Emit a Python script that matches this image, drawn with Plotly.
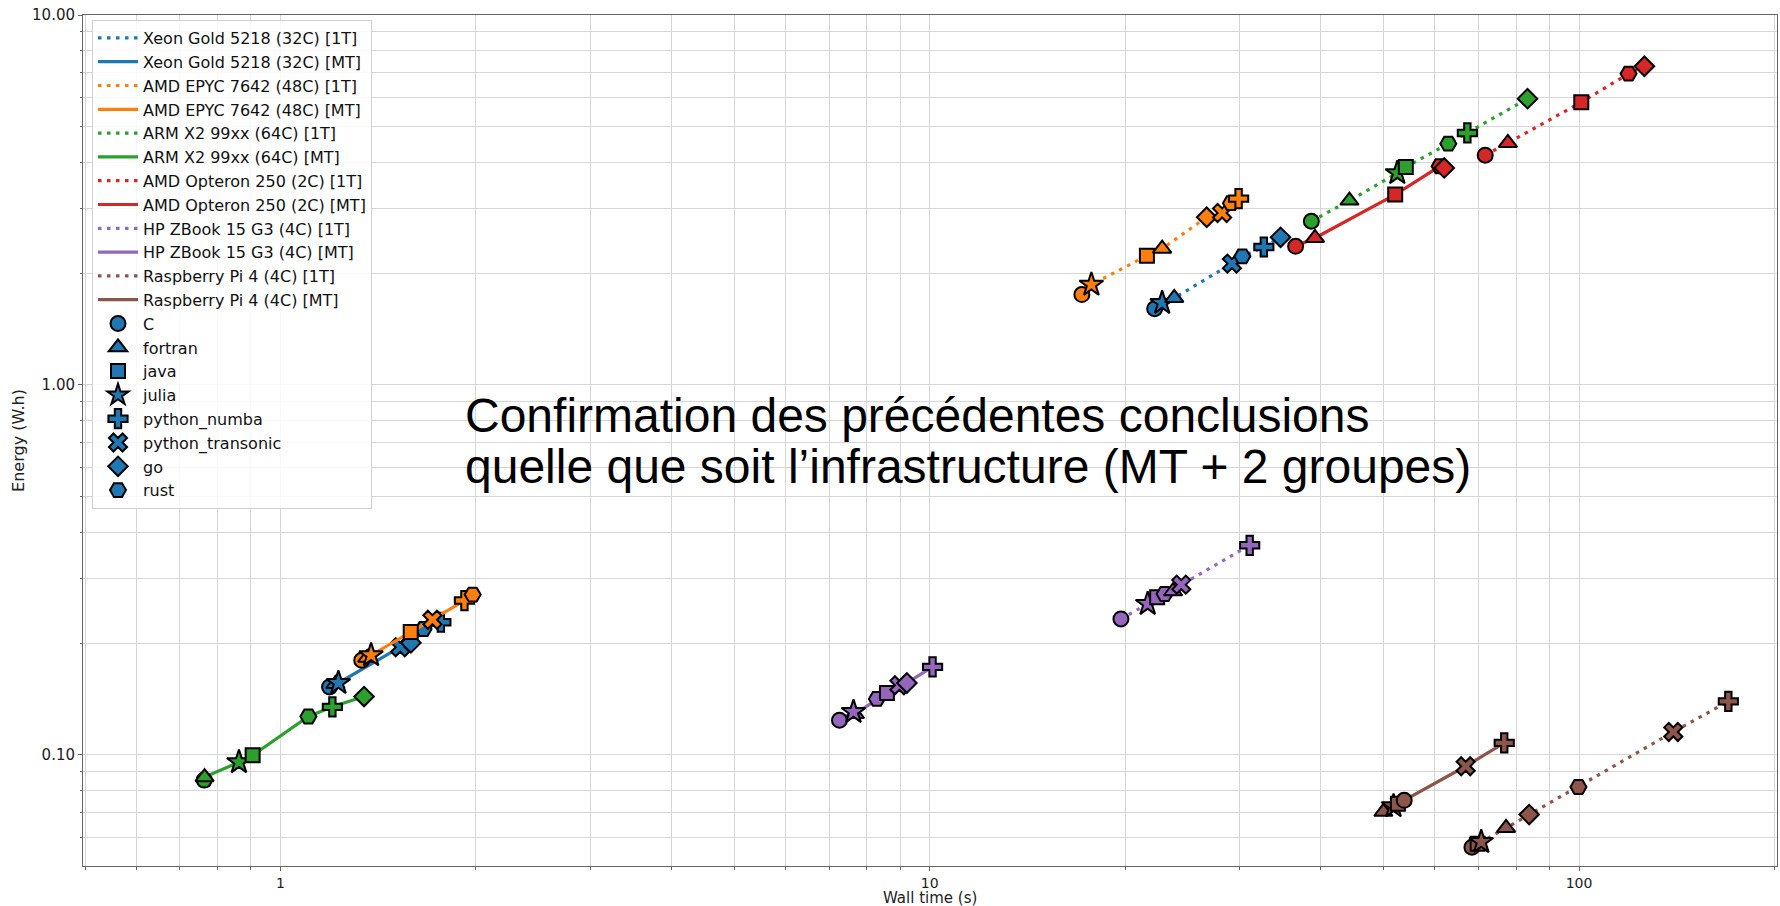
import plotly.graph_objects as go
import numpy as np

# ---------------- data (language, wall time [s], energy [W.h]) ----------------
XEON_1T = [("C", 22.2, 1.608), ("julia", 22.8, 1.666), ("fortran", 23.8, 1.719),
           ("python_transonic", 29.2, 2.128), ("rust", 30.3, 2.227),
           ("python_numba", 32.7, 2.36), ("go", 34.7, 2.507)]
XEON_MT = [("C", 1.19, 0.1527), ("fortran", 1.215, 0.1555), ("julia", 1.228, 0.1565),
           ("python_transonic", 1.529, 0.1955), ("go", 1.588, 0.2009),
           ("rust", 1.661, 0.219), ("python_numba", 1.766, 0.2284)]
EPYC_1T = [("C", 17.15, 1.755), ("julia", 17.74, 1.867), ("java", 21.6, 2.236),
           ("fortran", 22.8, 2.336), ("go", 26.7, 2.84), ("python_transonic", 28.2, 2.917),
           ("rust", 29.1, 3.10), ("python_numba", 29.9, 3.19)]
EPYC_MT = [("C", 1.334, 0.1803), ("fortran", 1.36, 0.183), ("julia", 1.379, 0.186),
           ("java", 1.587, 0.215), ("python_transonic", 1.714, 0.232),
           ("python_numba", 1.92, 0.2614), ("rust", 1.977, 0.2713)]
ARM_1T = [("C", 38.7, 2.77), ("fortran", 44.3, 3.15), ("julia", 52.5, 3.74),
          ("java", 54.1, 3.88), ("rust", 62.9, 4.49), ("python_numba", 67.3, 4.80),
          ("go", 83.3, 5.94)]
ARM_MT = [("C", 0.763, 0.0855), ("fortran", 0.764, 0.0871), ("julia", 0.863, 0.0956),
          ("java", 0.906, 0.0998), ("rust", 1.104, 0.127), ("python_numba", 1.202, 0.1349),
          ("go", 1.345, 0.1438)]
OPTERON_1T = [("C", 71.7, 4.18), ("fortran", 77.7, 4.51), ("java", 100.8, 5.81),
              ("rust", 119.2, 6.94), ("go", 126.1, 7.27)]
OPTERON_MT = [("C", 36.6, 2.37), ("fortran", 39.2, 2.497), ("java", 52.1, 3.27),
              ("rust", 61.0, 3.90), ("go", 62.0, 3.86)]
ZBOOK_1T = [("C", 19.7, 0.2332), ("julia", 21.66, 0.256), ("java", 22.4, 0.2668),
            ("rust", 23.0, 0.2723), ("fortran", 23.7, 0.277),
            ("python_transonic", 24.4, 0.2886), ("python_numba", 31.1, 0.3687)]
ZBOOK_MT = [("C", 7.26, 0.1241), ("fortran", 7.67, 0.129), ("julia", 7.63, 0.1307),
            ("rust", 8.29, 0.1417), ("java", 8.59, 0.1471),
            ("python_transonic", 8.98, 0.1543), ("go", 9.22, 0.1565),
            ("python_numba", 10.1, 0.173)]
RPI_1T = [("C", 68.4, 0.0563), ("java", 69.8, 0.0575), ("julia", 70.7, 0.0582),
          ("fortran", 77.2, 0.0635), ("go", 83.8, 0.069), ("rust", 99.8, 0.0819),
          ("python_transonic", 139.7, 0.1154), ("python_numba", 169.8, 0.1396)]
RPI_MT = [("fortran", 49.96, 0.0702), ("julia", 51.8, 0.0727), ("java", 52.6, 0.0738),
          ("C", 53.8, 0.0754), ("python_transonic", 66.9, 0.0932),
          ("python_numba", 76.7, 0.1078)]

SERIES = [
    ("Xeon Gold 5218 (32C) [1T]", XEON_1T, "#1f77b4", True),
    ("Xeon Gold 5218 (32C) [MT]", XEON_MT, "#1f77b4", False),
    ("AMD EPYC 7642 (48C) [1T]", EPYC_1T, "#ff7f0e", True),
    ("AMD EPYC 7642 (48C) [MT]", EPYC_MT, "#ff7f0e", False),
    ("ARM X2 99xx (64C) [1T]", ARM_1T, "#2ca02c", True),
    ("ARM X2 99xx (64C) [MT]", ARM_MT, "#2ca02c", False),
    ("AMD Opteron 250 (2C) [1T]", OPTERON_1T, "#d62728", True),
    ("AMD Opteron 250 (2C) [MT]", OPTERON_MT, "#d62728", False),
    ("HP ZBook 15 G3 (4C) [1T]", ZBOOK_1T, "#9467bd", True),
    ("HP ZBook 15 G3 (4C) [MT]", ZBOOK_MT, "#9467bd", False),
    ("Raspberry Pi 4 (4C) [1T]", RPI_1T, "#8c564b", True),
    ("Raspberry Pi 4 (4C) [MT]", RPI_MT, "#8c564b", False),
]

LANGUAGES = ["C", "fortran", "java", "julia", "python_numba", "python_transonic", "go", "rust"]
SYMBOLS = {"C": "circle", "fortran": "triangle-up", "java": "square", "julia": "star",
           "python_numba": "cross", "python_transonic": "x", "go": "diamond",
           "rust": "hexagon2"}
SIZES = {"C": 15, "fortran": 16, "java": 14, "julia": 18, "python_numba": 16,
         "python_transonic": 16, "go": 15, "rust": 16}

X_TICKS = [1, 10, 100]
X_TICKTEXT = ["1", "10", "100"]
Y_TICKS = [0.1, 1, 10]
Y_TICKTEXT = ["0.10", "1.00", "10.00"]
X_TITLE = "Wall time (s)"
Y_TITLE = "Energy (W.h)"

TITLE_LINES = ["Confirmation des précédentes conclusions",
               "quelle que soit l\u2019infrastructure (MT + 2 groupes)"]

# ---------------- figure ----------------
fig = go.Figure()

for name, pts, color, single in SERIES:
    pts_sorted = sorted(pts, key=lambda p: p[1])
    xs = [p[1] for p in pts_sorted]
    ys = [p[2] for p in pts_sorted]
    fig.add_trace(go.Scatter(
        x=xs, y=ys, mode="lines", name=name,
        line=dict(color=color, width=3.2, dash="3.5px,5.5px" if single else "solid"),
        hoverinfo="skip"))
    fig.add_trace(go.Scatter(
        x=[p[1] for p in pts], y=[p[2] for p in pts], mode="markers", showlegend=False,
        text=[p[0] for p in pts],
        marker=dict(color=color, symbol=[SYMBOLS[p[0]] for p in pts],
                    size=[SIZES[p[0]] for p in pts], opacity=1,
                    line=dict(color="black", width=2))))

for lang in LANGUAGES:
    fig.add_trace(go.Scatter(
        x=[None], y=[None], mode="markers", name=lang,
        marker=dict(color="#1f77b4", symbol=SYMBOLS[lang], size=SIZES[lang], opacity=1,
                    line=dict(color="black", width=2))))

def minor_vals(lo_exp, hi_exp, lo, hi):
    vals = []
    for e in range(lo_exp, hi_exp + 1):
        for m in range(2, 10):
            v = m * 10.0 ** e
            if lo <= v <= hi:
                vals.append(v)
    return vals

X_MIN, X_MAX = 0.4964, 201.8
Y_MIN, Y_MAX = 0.0501, 10.0

GRID = "#d6d6d6"
axis_common = dict(
    type="log", showline=True, linecolor="#666666", linewidth=1, mirror=True,
    ticks="outside", ticklen=4, tickcolor="#666666", gridcolor=GRID, gridwidth=1,
    zeroline=False, automargin=False,
)

fig.update_xaxes(
    **axis_common,
    tickfont=dict(family="DejaVu Sans", size=14, color="#222222"),
    range=[np.log10(X_MIN), np.log10(X_MAX)],
    tickmode="array", tickvals=X_TICKS, ticktext=X_TICKTEXT,
    minor=dict(tickmode="array", tickvals=minor_vals(-1, 2, X_MIN, X_MAX),
               ticks="outside", ticklen=2.5, tickcolor="#666666",
               showgrid=True, gridcolor=GRID, gridwidth=1),
)
fig.update_yaxes(
    **axis_common,
    tickfont=dict(family="DejaVu Sans", size=15, color="#222222"),
    range=[np.log10(Y_MIN), np.log10(Y_MAX)],
    tickmode="array", tickvals=Y_TICKS, ticktext=Y_TICKTEXT,
    minor=dict(tickmode="array", tickvals=minor_vals(-2, 1, Y_MIN, Y_MAX),
               ticks="outside", ticklen=2.5, tickcolor="#666666",
               showgrid=True, gridcolor=GRID, gridwidth=1),
    title=dict(text=Y_TITLE, font=dict(family="DejaVu Sans", size=16, color="#222222"),
               standoff=3),
)

L, R, T, B = 83, 3, 15, 40
PW, PH = 1780 - L - R, 906 - T - B

def px_to_paper(x, y):
    return (x - L) / PW, (906 - B - y) / PH

# x-axis title as an annotation (exact position under the tick labels)
xt_x, xt_y = px_to_paper(L + PW / 2, 898.5)
fig.add_annotation(text=X_TITLE, xref="paper", yref="paper", x=xt_x, y=xt_y,
                   xanchor="center", yanchor="middle", showarrow=False,
                   font=dict(family="DejaVu Sans", size=15, color="#222222"))

ax1, ay1 = px_to_paper(463, 416)
ax2, ay2 = px_to_paper(463, 467)
for txt, yy in zip(TITLE_LINES, [ay1, ay2]):
    fig.add_annotation(text=txt, xref="paper", yref="paper", x=ax1, y=yy,
                       xanchor="left", yanchor="middle", showarrow=False,
                       font=dict(family="Liberation Sans", size=48, color="black"))

lx, ly = px_to_paper(92, 20)
fig.update_layout(
    width=1780, height=906,
    margin=dict(l=L, r=R, t=T, b=B, autoexpand=False),
    plot_bgcolor="white", paper_bgcolor="white",
    legend=dict(x=lx, y=ly, xanchor="left", yanchor="top",
                bgcolor="rgba(255,255,255,0.85)", bordercolor="#d0d0d0", borderwidth=1,
                font=dict(family="DejaVu Sans", size=16, color="#111111"),
                itemwidth=40, tracegroupgap=0),
    showlegend=True,
)

fig.write_html("out.html", config={"displayModeBar": False},
               post_script="document.body.style.margin='0';document.body.style.overflow='hidden';")
